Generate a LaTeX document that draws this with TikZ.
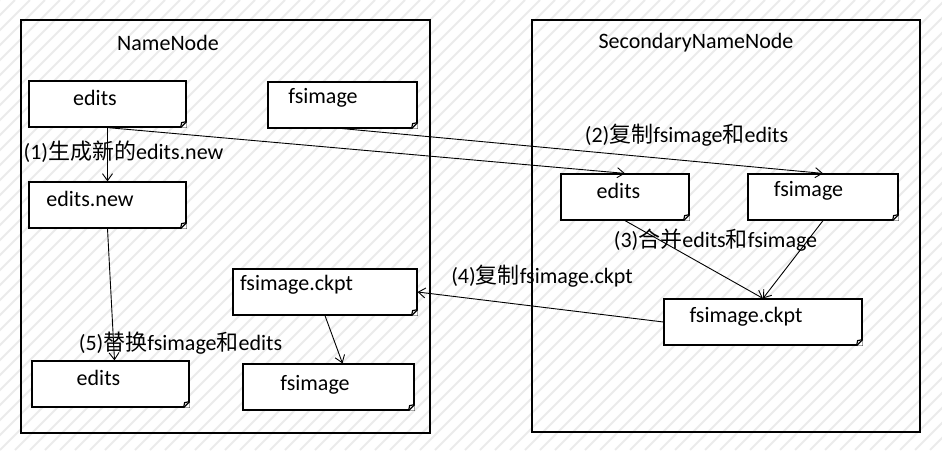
\documentclass[tikz,border=0pt]{standalone}
\usepackage{fontspec}
\setmainfont{Carlito}
\newfontfamily\cjk{Noto Sans CJK SC}
\usetikzlibrary{arrows.meta, positioning}

\tikzset{
	docbox/.style 2 args={draw, fill=white, line width=0.6pt, inner sep=0pt,
		minimum width=#1*0.5pt, minimum height=#2*0.5pt},
	flow/.style={-{Straight Barb[length=3.5pt, width=5pt]}, line width=0.45pt},
	hatch/.style={black!8, line width=1pt},
	every node/.style={font=\fontsize{11}{13}\selectfont},
	every label/.style={inner sep=0pt}
}

\begin{document}
\begin{tikzpicture}[x=0.5pt, y=-0.5pt]
	\useasboundingbox (0,0) rectangle (942,450);
	% background hatch
	\begin{scope}
		\clip (0,0) rectangle (942,450);
		\foreach \i in {-450,-435,...,945}
			\draw[hatch] (\i,450) -- ++(450,-450);
	\end{scope}
	
	% the two machines
	\draw[line width=0.7pt] (21,20) rectangle (430,433);
	\draw[line width=0.7pt] (532,20) rectangle (920,432);
	\node (nnTitle) at (168,43) {NameNode};
	\node (snnTitle) at (696,43) {SecondaryNameNode};
	
	% NameNode files
	\node[docbox={157}{46}, label={[xshift=-6.25pt, yshift=3pt]center:edits}] (nnEdits) at (107.5,104) {};
	\node[docbox={149}{46}, label={[xshift=-9.75pt, yshift=3.5pt]center:fsimage}] (nnImage) at (342.5,105) {};
	\node[docbox={157}{46}, label={[xshift=-8.75pt, yshift=3pt]center:edits.new}] (nnNew) at (107.5,205) {};
	\node[docbox={184}{46}, label={[xshift=-14.25pt, yshift=3.5pt]center:fsimage.ckpt}] (nnCkpt) at (325,292) {};
	\node[docbox={171}{46}, label={[xshift=-6.75pt, yshift=1pt]center:fsimage}] (nnImage2) at (328.5,387) {};
	\node[docbox={157}{46}, label={[xshift=-6pt, yshift=3pt]center:edits}] (nnEdits2) at (110.5,384) {};
	
	% SecondaryNameNode files
	\node[docbox={128}{46}, label={[xshift=-3.25pt, yshift=3pt]center:edits}] (snnEdits) at (625,197) {};
	\node[docbox={150}{46}, label={[xshift=-7.25pt, yshift=3pt]center:fsimage}] (snnImage) at (823,197) {};
	\node[docbox={198}{46}, label={[xshift=-8.5pt, yshift=2.5pt]center:fsimage.ckpt}] (snnCkpt) at (763,322) {};
	
	% folded corners
	\foreach \n in {nnEdits,nnImage,nnNew,nnCkpt,nnImage2,nnEdits2,snnEdits,snnImage,snnCkpt} {
		\fill[white] ([xshift=-3pt]\n.south east) -- (\n.south east) -- ([yshift=3pt]\n.south east) -- cycle;
		\draw[line width=0.6pt] ([xshift=-3pt]\n.south east) -- ([yshift=3pt]\n.south east);
		\draw[line width=0.6pt] ([xshift=-3pt]\n.south east) -- ([xshift=-2.5pt, yshift=2.5pt]\n.south east) -- ([yshift=3pt]\n.south east);
	}
	
	% steps
	\draw[flow] (nnEdits.south) -- (nnNew.north);
	\draw[flow] (nnEdits.south) -- (snnEdits.north);
	\draw[flow] (nnImage.south) -- (snnImage.north);
	\draw[flow] (snnEdits.south) -- (snnCkpt.north);
	\draw[flow] (snnImage.south) -- (snnCkpt.north);
	\draw[flow] (snnCkpt.west) -- (nnCkpt.east);
	\draw[flow] (nnCkpt.south) -- ([xshift=7pt]nnImage2.north);
	\draw[flow] (nnNew.south) -- ([xshift=2pt]nnEdits2.north);
	
	\node (stepOne) at (123.5,152) {(1){\cjk 生成新的}edits.new};
	\node (stepTwo) at (686.5,135) {(2){\cjk 复制}fsimage{\cjk 和}edits};
	\node (stepThree) at (715.5,240) {(3){\cjk 合并}edits{\cjk 和}fsimage};
	\node (stepFour) at (542,276) {(4){\cjk 复制}fsimage.ckpt};
	\node (stepFive) at (180.5,343) {(5){\cjk 替换}fsimage{\cjk 和}edits};
\end{tikzpicture}
\end{document}
